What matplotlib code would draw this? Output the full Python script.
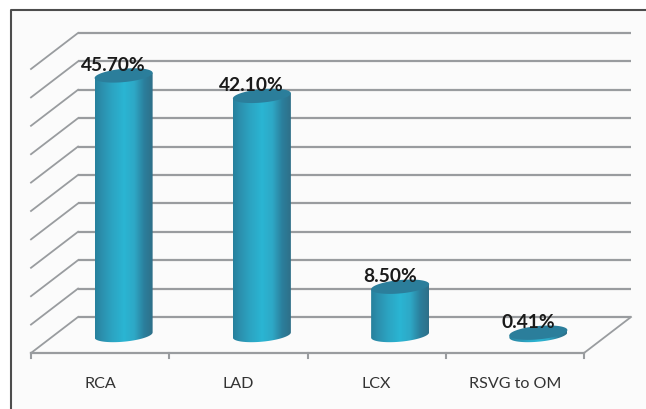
import numpy as np
import matplotlib
matplotlib.use("Agg")
import matplotlib.pyplot as plt
from matplotlib.colors import LinearSegmentedColormap
from matplotlib.patches import Polygon

categories = ["RCA", "LAD", "LCX", "RSVG to OM"]
values = [45.7, 42.1, 8.5, 0.41]
value_labels = ["45.70%", "42.10%", "8.50%", "0.41%"]
grid_values = [0, 5, 10, 15, 20, 25, 30, 35, 40, 45, 50]

W, H = 646, 410
GRID = "#999c9f"
DEPTH_X = 47 / 138.25   # depth of the floor, in category units
DEPTH_Y = 36 / 5.68     # same, in percent units
HALF_W = 29 / 138.25
ELL_H = 6.7 / 5.68
TILT = 2.6 / 5.68

side_cmap = LinearSegmentedColormap.from_list("cyl", [
    (0.0, "#26809c"), (0.1, "#2b8dab"), (0.3, "#2ca4c2"), (0.5, "#2ab5d3"),
    (0.68, "#2ea8c6"), (0.85, "#2b7f9c"), (1.0, "#2f6f88")])

plt.rcParams["font.family"] = ["Lato", "DejaVu Sans"]
fig = plt.figure(figsize=(W / 100, H / 100), dpi=100, facecolor="white")

# page background with the dark border on top and left only
bg = fig.add_axes([0, 0, 1, 1])
bg.set_xlim(0, W)
bg.set_ylim(H, 0)
bg.axis("off")
bg.fill_between([10.5, W], 10.5, H, color="#fbfbfb", lw=0)
bg.plot([10.5, 10.5, W], [H, 10.5, 10.5], color="#4d4d4d", lw=1.5)

# plot axes: x 0..4 is the front floor edge, y 0..50 the front wall height
ax = fig.add_axes([31 / W, 1 - 354 / H, 553 / W, 284 / H])
ax.set_xlim(0, 4)
ax.set_ylim(0, 50)
ax.axis("off")


def ellipse(cx, cy):
    t = np.linspace(0, 2 * np.pi, 120)
    return cx + HALF_W * np.cos(t), cy + ELL_H * np.sin(t) + TILT * np.cos(t)


for g in grid_values:
    ax.plot([DEPTH_X, 4 + DEPTH_X], [g + DEPTH_Y] * 2, color=GRID, lw=1.6,
            clip_on=False, solid_capstyle="butt", zorder=1)
    ax.plot([0, DEPTH_X], [g, g + DEPTH_Y], color=GRID, lw=1.3,
            clip_on=False, zorder=1)

ax.plot([0, 4], [0, 0], color=GRID, lw=1.6, clip_on=False, zorder=1)
ax.plot([4, 4 + DEPTH_X], [0, DEPTH_Y], color=GRID, lw=1.3, clip_on=False, zorder=1)
for i in range(5):
    ax.plot([i, i], [0, -0.95], color=GRID, lw=1.5, clip_on=False, zorder=1)

for i, (cat, val, lab) in enumerate(zip(categories, values, value_labels)):
    cx = i + 0.5 + DEPTH_X / 2
    base = DEPTH_Y / 2
    top = base + val

    # cylinder side: top edge straight through the ellipse, bottom edge the lower half
    t = np.linspace(0, np.pi, 60)
    xs = cx + HALF_W * np.cos(t)
    low = base - ELL_H * np.sin(t) + TILT * np.cos(t)
    up = top + TILT * np.cos(t)
    verts = np.r_[np.c_[xs, low], np.c_[xs[::-1], up[::-1]]]
    clip = Polygon(verts, closed=True, transform=ax.transData, fc="none", ec="none")
    ax.add_patch(clip)
    grad = np.linspace(0, 1, 256).reshape(1, -1)
    im = ax.imshow(grad, cmap=side_cmap, aspect="auto", zorder=3,
                   extent=[cx - HALF_W, cx + HALF_W, base - 2 * ELL_H, top + 2 * ELL_H])
    im.set_clip_path(clip)

    ex, ey = ellipse(cx, top)
    ax.fill(ex, ey, color="#2b7e9b", lw=0, zorder=4, clip_on=False)

    ax.annotate(lab, (cx, top), xytext=(-7.5, 2), textcoords="offset points",
                ha="center", va="bottom", fontsize=13.8, fontweight="bold",
                color="#1a1a1a", zorder=5, annotation_clip=False)
    ax.annotate(cat, (i + 0.5, 0), xytext=(0, -16.5), textcoords="offset points",
                ha="center", va="top", fontsize=11.6, color="#333333",
                annotation_clip=False)

ax.set_xlim(0, 4)
ax.set_ylim(0, 50)
ax.set_aspect("auto")
fig.savefig("out.png", dpi=100)
